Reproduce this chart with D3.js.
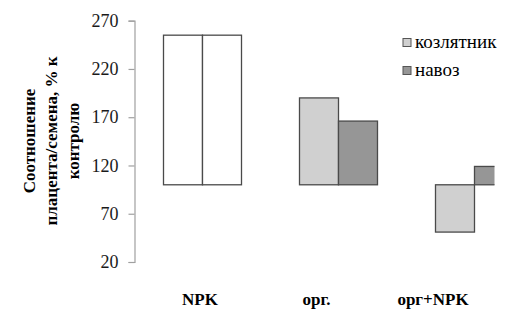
<!DOCTYPE html>
<html><head><meta charset="utf-8">
<script src="https://cdn.jsdelivr.net/npm/d3@7"></script>
<style>body{margin:0;background:#fff}svg{display:block}svg text{font-family:"Liberation Serif","Times New Roman","DejaVu Serif",serif}</style>
</head><body>
<svg id="c" width="528" height="317"></svg>
<script>
const categories = ["NPK", "орг.", "орг+NPK"];
const seriesNames = ["козлятник", "навоз"];
const kozlyatnik = [255, 190, 51];
const navoz = [255, 166, 119];
const baseline = 100;
const yTicks = [20, 70, 120, 170, 220, 270];
const yTitle = ["Соотношение", "плацента/семена, % к", "контролю"];

const svg = d3.select("#c");
const y = d3.scaleLinear().domain([20, 270]).range([262, 20.7]);
const x = d3.scaleBand().domain(categories).range([134, 542]);
const xs = d3.scaleBand().domain([0, 1]).range([0, 78]);
const xl = d3.scalePoint().domain(categories).range([200, 433]);

const fills = {0: ["#ffffff", "#d0d0d0", "#d0d0d0"], 1: ["#ffffff", "#969696", "#969696"]};

svg.append("defs").append("clipPath").attr("id", "clip")
  .append("rect").attr("x", 134).attr("y", 0).attr("width", 360.5).attr("height", 317);

const rows = [];
categories.forEach((c, i) => {
  [kozlyatnik[i], navoz[i]].forEach((v, j) => rows.push({c, i, j, v}));
});
svg.append("g").attr("clip-path", "url(#clip)")
  .selectAll("rect").data(rows).join("rect")
  .attr("x", d => x(d.c) + (x.bandwidth() - 78) / 2 + xs(d.j) + 0.5)
  .attr("width", xs.bandwidth())
  .attr("y", d => y(Math.max(d.v, baseline)))
  .attr("height", d => Math.abs(y(d.v) - y(baseline)))
  .attr("fill", d => fills[d.j][d.i])
  .attr("stroke", "#4a4a4a").attr("stroke-width", 1.3);

// y axis
const ax = svg.append("g").attr("transform", "translate(134.5,0)")
  .call(d3.axisLeft(y).tickValues(yTicks).tickSize(6).tickPadding(10).tickFormat(d3.format("d")));
ax.attr("font-family", null);
ax.select(".domain").attr("stroke", "#a0a0a0").attr("stroke-width", 1.2);
ax.selectAll(".tick line").attr("stroke", "#a0a0a0").attr("stroke-width", 1.2);
ax.selectAll(".tick text").attr("font-size", 18).attr("fill", "#1a1a1a");

// category labels
svg.append("g").selectAll("text").data(categories).join("text")
  .attr("x", d => xl(d)).attr("y", 305).attr("text-anchor", "middle")
  .attr("font-size", 17).attr("font-weight", "bold").attr("fill", "#000")
  .text(d => d);

// y title
const t = svg.append("text").attr("transform", "translate(0,141) rotate(-90)")
  .attr("text-anchor", "middle").attr("font-size", 17)
  .attr("font-weight", "bold").attr("fill", "#000");
yTitle.forEach((s, k) => t.append("tspan").attr("x", 0).attr("y", 35 + k * 22).text(s));

// legend
const legFill = ["#d0d0d0", "#969696"];
const lg = svg.append("g").selectAll("g").data(seriesNames).join("g")
  .attr("transform", (d, k) => `translate(403,${38.5 + k * 28})`);
lg.append("rect").attr("width", 8).attr("height", 8).attr("fill", (d, k) => legFill[k])
  .attr("stroke", "#555").attr("stroke-width", 1);
lg.append("text").attr("x", 12).attr("y", 9.5).attr("font-size", 19)
  .attr("fill", "#000").text(d => d);
</script>
</body></html>
